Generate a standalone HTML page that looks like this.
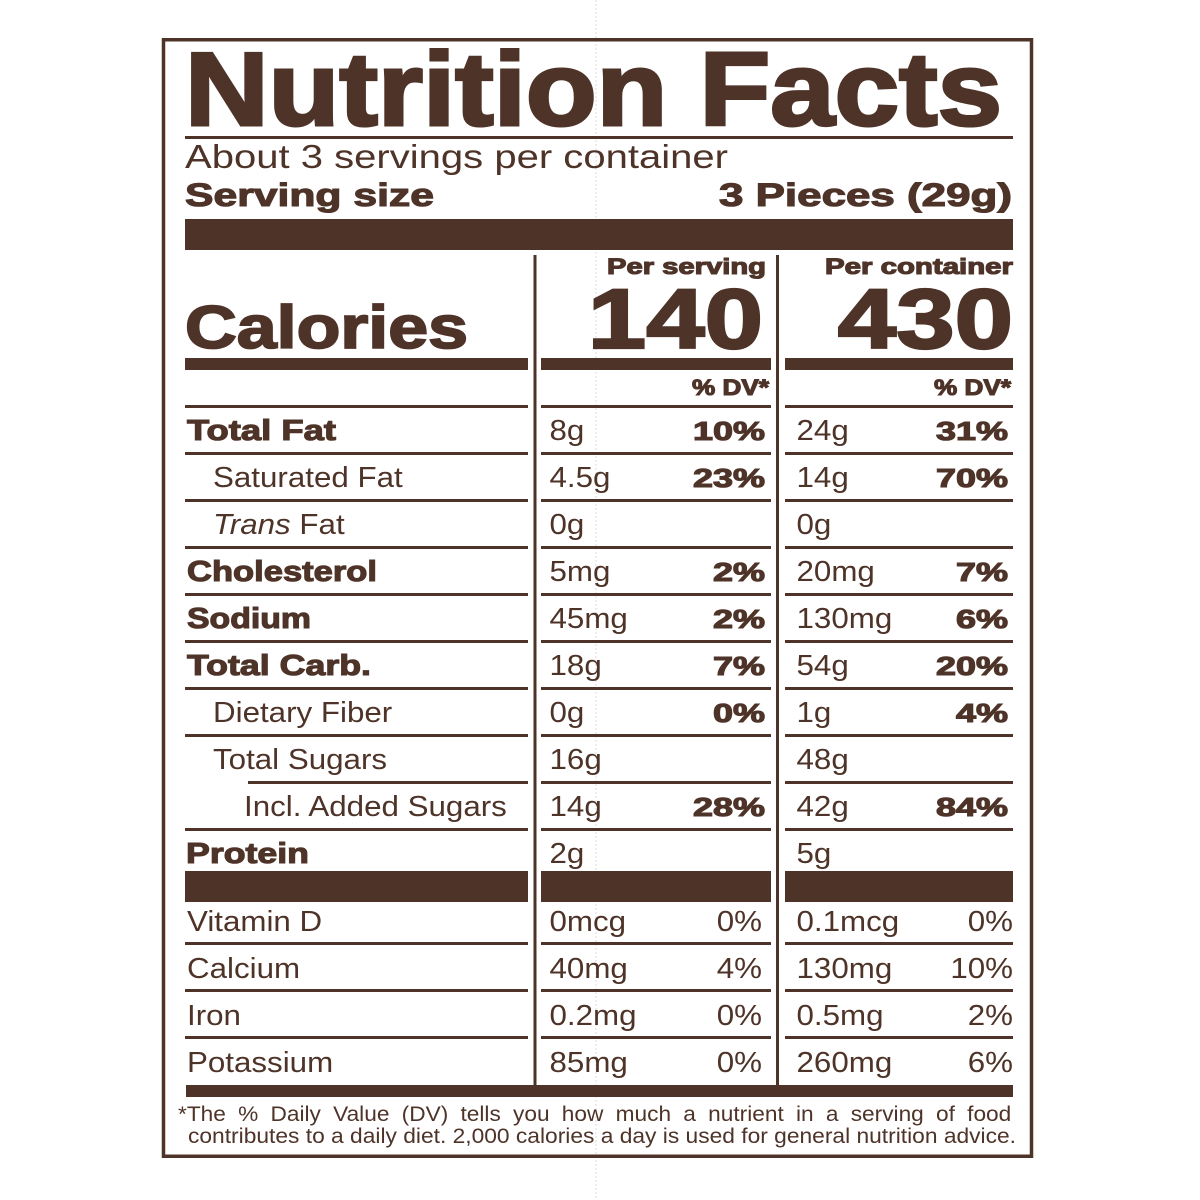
<!DOCTYPE html>
<html>
<head>
<meta charset="utf-8">
<style>
  html,body{margin:0;padding:0;background:#fff;}
  svg{display:block;}
  text{font-family:"Liberation Sans",Arial,sans-serif;fill:#4e3328;}
  .b{font-weight:bold;stroke:#4e3328;stroke-width:1.1;}
  .r{font-size:29px;}
  .bl{font-size:29px;}
  .bp{font-size:26px;}
</style>
</head>
<body>
<svg width="1200" height="1200" viewBox="0 0 1200 1200" xmlns="http://www.w3.org/2000/svg">
  <rect x="0" y="0" width="1200" height="1200" fill="#fff"/>
  <line x1="596" y1="0" x2="596" y2="1200" stroke="#e2dada" stroke-width="1" stroke-dasharray="2,2"/>

  <rect x="163.5" y="39.75" width="868" height="1116.5" fill="none" stroke="#4e3328" stroke-width="3.5"/>

  <text x="185" y="125" font-size="104" class="b" style="stroke-width:3" textLength="817" lengthAdjust="spacingAndGlyphs">Nutrition Facts</text>
  <rect x="185" y="136" width="828" height="3" fill="#4e3328"/>

  <text x="185" y="168" font-size="33" textLength="543" lengthAdjust="spacingAndGlyphs">About 3 servings per container</text>
  <text x="185" y="206" font-size="32" class="b" textLength="249" lengthAdjust="spacingAndGlyphs">Serving size</text>
  <text x="1012" y="206" font-size="32" class="b" text-anchor="end" textLength="293" lengthAdjust="spacingAndGlyphs">3 Pieces (29g)</text>

  <rect x="185" y="219" width="828" height="31" fill="#4e3328"/>

  <rect x="533.5" y="255" width="3" height="830" fill="#4e3328"/>
  <rect x="776" y="255" width="3" height="830" fill="#4e3328"/>

  <text x="766" y="274" font-size="22" class="b" text-anchor="end" textLength="159" lengthAdjust="spacingAndGlyphs">Per serving</text>
  <text x="1013" y="274" font-size="22" class="b" text-anchor="end" textLength="188" lengthAdjust="spacingAndGlyphs">Per container</text>

  <text transform="translate(763,348) scale(1.25,1)" font-size="84" class="b" style="stroke-width:2.2" text-anchor="end">140</text>
  <text transform="translate(1013,348) scale(1.25,1)" font-size="84" class="b" style="stroke-width:2.2" text-anchor="end">430</text>

  <text x="185" y="348" font-size="60" class="b" style="stroke-width:1.8" textLength="283" lengthAdjust="spacingAndGlyphs">Calories</text>

  <rect x="185" y="358" width="343" height="12" fill="#4e3328"/>
  <rect x="541" y="358" width="230" height="12" fill="#4e3328"/>
  <rect x="785" y="358" width="228" height="12" fill="#4e3328"/>

  <text x="769" y="395" font-size="22" class="b" text-anchor="end" textLength="77" lengthAdjust="spacingAndGlyphs">% DV*</text>
  <text x="1011" y="395" font-size="22" class="b" text-anchor="end" textLength="77" lengthAdjust="spacingAndGlyphs">% DV*</text>

  <g fill="#4e3328">
    <rect x="185" y="405" width="343" height="3"/><rect x="541" y="405" width="230" height="3"/><rect x="785" y="405" width="228" height="3"/>
    <rect x="185" y="452" width="343" height="3"/><rect x="541" y="452" width="230" height="3"/><rect x="785" y="452" width="228" height="3"/>
    <rect x="185" y="499" width="343" height="3"/><rect x="541" y="499" width="230" height="3"/><rect x="785" y="499" width="228" height="3"/>
    <rect x="185" y="546" width="343" height="3"/><rect x="541" y="546" width="230" height="3"/><rect x="785" y="546" width="228" height="3"/>
    <rect x="185" y="593" width="343" height="3"/><rect x="541" y="593" width="230" height="3"/><rect x="785" y="593" width="228" height="3"/>
    <rect x="185" y="640" width="343" height="3"/><rect x="541" y="640" width="230" height="3"/><rect x="785" y="640" width="228" height="3"/>
    <rect x="185" y="687" width="343" height="3"/><rect x="541" y="687" width="230" height="3"/><rect x="785" y="687" width="228" height="3"/>
    <rect x="185" y="734" width="343" height="3"/><rect x="541" y="734" width="230" height="3"/><rect x="785" y="734" width="228" height="3"/>
    <rect x="248" y="781" width="280" height="3"/><rect x="541" y="781" width="230" height="3"/><rect x="785" y="781" width="228" height="3"/>
    <rect x="185" y="828" width="343" height="3"/><rect x="541" y="828" width="230" height="3"/><rect x="785" y="828" width="228" height="3"/>
    <rect x="185" y="871" width="343" height="31"/><rect x="541" y="871" width="230" height="31"/><rect x="785" y="871" width="228" height="31"/>
    <rect x="185" y="942" width="343" height="3"/><rect x="541" y="942" width="230" height="3"/><rect x="785" y="942" width="228" height="3"/>
    <rect x="185" y="989" width="343" height="3"/><rect x="541" y="989" width="230" height="3"/><rect x="785" y="989" width="228" height="3"/>
    <rect x="185" y="1036" width="343" height="3"/><rect x="541" y="1036" width="230" height="3"/><rect x="785" y="1036" width="228" height="3"/>
    <rect x="186" y="1085" width="827" height="12"/>
  </g>

  <text x="187" y="440" class="b bl" textLength="149" lengthAdjust="spacingAndGlyphs">Total Fat</text>
  <text transform="translate(213,487) scale(1.08,1)" class="r">Saturated Fat</text>
  <text transform="translate(213,534) scale(1.08,1)" class="r"><tspan font-style="italic">Trans</tspan> Fat</text>
  <text x="187" y="581" class="b bl" textLength="190" lengthAdjust="spacingAndGlyphs">Cholesterol</text>
  <text x="187" y="628" class="b bl" textLength="124" lengthAdjust="spacingAndGlyphs">Sodium</text>
  <text x="187" y="675" class="b bl" textLength="184" lengthAdjust="spacingAndGlyphs">Total Carb.</text>
  <text transform="translate(213,722) scale(1.08,1)" class="r">Dietary Fiber</text>
  <text transform="translate(213,769) scale(1.08,1)" class="r">Total Sugars</text>
  <text transform="translate(244,816) scale(1.08,1)" class="r">Incl. Added Sugars</text>
  <text x="186" y="863" class="b bl" textLength="123" lengthAdjust="spacingAndGlyphs">Protein</text>

  <text transform="translate(187,931) scale(1.08,1)" class="r">Vitamin D</text>
  <text transform="translate(187,978) scale(1.08,1)" class="r">Calcium</text>
  <text transform="translate(187,1025) scale(1.08,1)" class="r">Iron</text>
  <text transform="translate(187,1072) scale(1.08,1)" class="r">Potassium</text>

  <text transform="translate(549.5,440) scale(1.08,1)" class="r">8g</text>
  <text transform="translate(549.5,487) scale(1.08,1)" class="r">4.5g</text>
  <text transform="translate(549.5,534) scale(1.08,1)" class="r">0g</text>
  <text transform="translate(549.5,581) scale(1.08,1)" class="r">5mg</text>
  <text transform="translate(549.5,628) scale(1.08,1)" class="r">45mg</text>
  <text transform="translate(549.5,675) scale(1.08,1)" class="r">18g</text>
  <text transform="translate(549.5,722) scale(1.08,1)" class="r">0g</text>
  <text transform="translate(549.5,769) scale(1.08,1)" class="r">16g</text>
  <text transform="translate(549.5,816) scale(1.08,1)" class="r">14g</text>
  <text transform="translate(549.5,863) scale(1.08,1)" class="r">2g</text>
  <text transform="translate(549.5,931) scale(1.08,1)" class="r">0mcg</text>
  <text transform="translate(549.5,978) scale(1.08,1)" class="r">40mg</text>
  <text transform="translate(549.5,1025) scale(1.08,1)" class="r">0.2mg</text>
  <text transform="translate(549.5,1072) scale(1.08,1)" class="r">85mg</text>

  <text x="765" y="440" class="b bp" text-anchor="end" textLength="72" lengthAdjust="spacingAndGlyphs">10%</text>
  <text x="765" y="487" class="b bp" text-anchor="end" textLength="72" lengthAdjust="spacingAndGlyphs">23%</text>
  <text x="765" y="581" class="b bp" text-anchor="end" textLength="52" lengthAdjust="spacingAndGlyphs">2%</text>
  <text x="765" y="628" class="b bp" text-anchor="end" textLength="52" lengthAdjust="spacingAndGlyphs">2%</text>
  <text x="765" y="675" class="b bp" text-anchor="end" textLength="52" lengthAdjust="spacingAndGlyphs">7%</text>
  <text x="765" y="722" class="b bp" text-anchor="end" textLength="52" lengthAdjust="spacingAndGlyphs">0%</text>
  <text x="765" y="816" class="b bp" text-anchor="end" textLength="72" lengthAdjust="spacingAndGlyphs">28%</text>

  <text transform="translate(762,931) scale(1.08,1)" class="r" text-anchor="end">0%</text>
  <text transform="translate(762,978) scale(1.08,1)" class="r" text-anchor="end">4%</text>
  <text transform="translate(762,1025) scale(1.08,1)" class="r" text-anchor="end">0%</text>
  <text transform="translate(762,1072) scale(1.08,1)" class="r" text-anchor="end">0%</text>

  <text transform="translate(796.5,440) scale(1.08,1)" class="r">24g</text>
  <text transform="translate(796.5,487) scale(1.08,1)" class="r">14g</text>
  <text transform="translate(796.5,534) scale(1.08,1)" class="r">0g</text>
  <text transform="translate(796.5,581) scale(1.08,1)" class="r">20mg</text>
  <text transform="translate(796.5,628) scale(1.08,1)" class="r">130mg</text>
  <text transform="translate(796.5,675) scale(1.08,1)" class="r">54g</text>
  <text transform="translate(796.5,722) scale(1.08,1)" class="r">1g</text>
  <text transform="translate(796.5,769) scale(1.08,1)" class="r">48g</text>
  <text transform="translate(796.5,816) scale(1.08,1)" class="r">42g</text>
  <text transform="translate(796.5,863) scale(1.08,1)" class="r">5g</text>
  <text transform="translate(796.5,931) scale(1.08,1)" class="r">0.1mcg</text>
  <text transform="translate(796.5,978) scale(1.08,1)" class="r">130mg</text>
  <text transform="translate(796.5,1025) scale(1.08,1)" class="r">0.5mg</text>
  <text transform="translate(796.5,1072) scale(1.08,1)" class="r">260mg</text>

  <text x="1008" y="440" class="b bp" text-anchor="end" textLength="72" lengthAdjust="spacingAndGlyphs">31%</text>
  <text x="1008" y="487" class="b bp" text-anchor="end" textLength="72" lengthAdjust="spacingAndGlyphs">70%</text>
  <text x="1008" y="581" class="b bp" text-anchor="end" textLength="52" lengthAdjust="spacingAndGlyphs">7%</text>
  <text x="1008" y="628" class="b bp" text-anchor="end" textLength="52" lengthAdjust="spacingAndGlyphs">6%</text>
  <text x="1008" y="675" class="b bp" text-anchor="end" textLength="72" lengthAdjust="spacingAndGlyphs">20%</text>
  <text x="1008" y="722" class="b bp" text-anchor="end" textLength="52" lengthAdjust="spacingAndGlyphs">4%</text>
  <text x="1008" y="816" class="b bp" text-anchor="end" textLength="72" lengthAdjust="spacingAndGlyphs">84%</text>

  <text transform="translate(1013,931) scale(1.08,1)" class="r" text-anchor="end">0%</text>
  <text transform="translate(1013,978) scale(1.08,1)" class="r" text-anchor="end">10%</text>
  <text transform="translate(1013,1025) scale(1.08,1)" class="r" text-anchor="end">2%</text>
  <text transform="translate(1013,1072) scale(1.08,1)" class="r" text-anchor="end">6%</text>

  <text transform="translate(178,1121) scale(1.08,1)" font-size="21" style="word-spacing:5.5px">*The % Daily Value (DV) tells you how much a nutrient in a serving of food</text>
  <text x="188" y="1143" font-size="21" textLength="828" lengthAdjust="spacingAndGlyphs">contributes to a daily diet. 2,000 calories a day is used for general nutrition advice.</text>
</svg>
</body>
</html>
